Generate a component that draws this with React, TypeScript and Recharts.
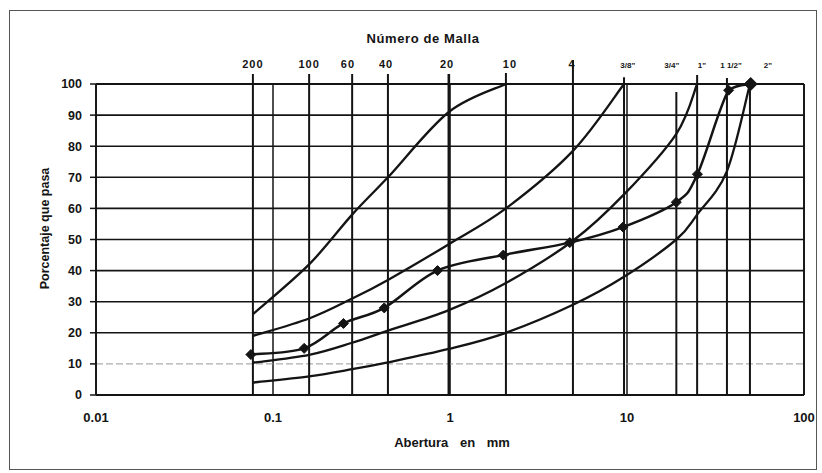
import { LineChart, Line, XAxis, YAxis, CartesianGrid, ReferenceLine, Label } from 'recharts'

// sieve designations and where each vertical sieve line sits (mm)
const sieveLabels = ['200', '100', '60', '40', '20', '10', '4', '3/8"', '3/4"', '1"', '1 1/2"', '2"']
const sieveLineMm = [0.077, 0.16, 0.28, 0.446, 0.985, 2.07, 4.95, 9.62, 19.0, 24.9, 36.7, 49.5]
// how high each sieve line reaches (in % passing units, above 100 = over the plot)
const sieveLineTop = [103.2, 103.2, 103.2, 103.2, 103.2, 103.5, 107.7, 102.2, 97.4, 102.9, 101.9, 100]
// where the sieve captions are anchored on the top scale (mm)
const sieveLabelMm = [0.077, 0.16, 0.265, 0.435, 0.962, 2.18, 4.89, 10.1, 17.9, 26.5, 38.7, 62.6]

const xTicks = [0.01, 0.1, 1, 10, 100]
const yTicks = [0, 10, 20, 30, 40, 50, 60, 70, 80, 90, 100]

// gradation envelopes, % passing at each sieve line
const upperFine = [26, 42, 58, 70, 91, 100]
const upperCoarse = [19, 24.6, 31, 37, 48.5, 60, 78.5, 100]
const lowerFine = [10.4, 12.9, 16.8, 20.7, 27.3, 36, 49.6, 64.5, 84, 100]
const lowerCoarse = [4, 6, 8.3, 10.5, 14.8, 20, 29, 38, 50, 58, 72, 100]

// tested sample
const sampleMm = [0.075, 0.15, 0.25, 0.425, 0.85, 2, 4.75, 9.5, 19, 25, 37.5, 50]
const samplePass = [13, 15, 23, 28, 40, 45, 49, 54, 62, 71, 98, 100]

const toPoints = (xs: number[], ys: number[]) => ys.map((y, i) => ({ x: xs[i], y }))

const envelopes = [upperFine, upperCoarse, lowerFine, lowerCoarse].map(ys => toPoints(sieveLineMm, ys))
const sample = toPoints(sampleMm, samplePass)

const INK = '#141414'
const FONT = '"Liberation Sans", Arial, sans-serif'

const clamp = (v: number, a: number, b: number) => Math.min(Math.max(v, Math.min(a, b)), Math.max(a, b))

// spreadsheet-style smoothed line: Catmull-Rom segments as cubic beziers,
// control points kept inside each segment's vertical span so nothing overshoots
function smoothCurve(context: any) {
  let pts: number[][] = []
  return {
    areaStart() {},
    areaEnd() {},
    lineStart() { pts = [] },
    point(x: number, y: number) { pts.push([+x, +y]) },
    lineEnd() {
      if (!pts.length) return
      context.moveTo(pts[0][0], pts[0][1])
      for (let i = 0; i < pts.length - 1; i++) {
        const p0 = pts[i - 1] ?? pts[i]
        const p1 = pts[i]
        const p2 = pts[i + 1]
        const p3 = pts[i + 2] ?? p2
        context.bezierCurveTo(
          p1[0] + (p2[0] - p0[0]) / 6, clamp(p1[1] + (p2[1] - p0[1]) / 6, p1[1], p2[1]),
          p2[0] - (p3[0] - p1[0]) / 6, clamp(p2[1] - (p3[1] - p1[1]) / 6, p1[1], p2[1]),
          p2[0], p2[1],
        )
      }
    },
  }
}

function Diamond(props: any) {
  const { cx, cy, index } = props
  if (cx == null || cy == null) return <g key={index} />
  const r = index === samplePass.length - 1 ? 6.5 : 5
  return (
    <path
      key={index}
      d={`M${cx},${cy - r} L${cx + r},${cy} L${cx},${cy + r} L${cx - r},${cy} Z`}
      fill={INK}
      stroke={INK}
    />
  )
}

function SieveTick(props: any) {
  const { x, y, payload } = props
  const i = sieveLabelMm.indexOf(payload.value)
  const label = sieveLabels[i] ?? ''
  const inch = label.includes('"')
  return (
    <text x={x} y={y} textAnchor="middle" fontFamily={FONT} fontWeight="bold"
      fontSize={inch ? 8 : 11} letterSpacing={inch ? 0 : 1} fill={INK}>
      {label}
    </text>
  )
}

export default function App() {
  return (
    <div style={{ position: 'absolute', left: 0, top: 0, width: 822, height: 473, background: '#fff' }}>
      <div style={{ position: 'absolute', left: 9, top: 10, width: 806, height: 458, border: '1px solid #555' }} />
      <div style={{ position: 'absolute', left: 0, top: 0 }}>
        <LineChart width={822} height={473} margin={{ top: 20, right: 18, left: 0, bottom: 0 }}>
          <CartesianGrid horizontal={false} stroke={INK} strokeWidth={1.5} />
          <XAxis
            dataKey="x" type="number" scale="log" domain={[0.01, 100]} ticks={xTicks}
            allowDataOverflow height={78} interval={0}
            axisLine={{ stroke: INK, strokeWidth: 1.8 }} tickLine={false} tickSize={6} tickMargin={12}
            tick={{ fontSize: 13, fontWeight: 'bold', fill: INK, fontFamily: FONT }}
          >
            <Label
              content={(p: any) => {
                const vb = p.viewBox ?? { x: 96, y: 395, width: 708, height: 78 }
                return (
                  <text x={vb.x + vb.width / 2 + 2} y={vb.y + 52} textAnchor="middle" fontFamily={FONT}
                    fontWeight="bold" fontSize={13} wordSpacing={8} fill={INK}>
                    Abertura en mm
                  </text>
                )
              }}
            />
          </XAxis>
          <XAxis
            xAxisId="top" orientation="top" dataKey="x" type="number" scale="log" domain={[0.01, 100]}
            ticks={sieveLabelMm} allowDataOverflow height={64} interval={0}
            axisLine={{ stroke: INK, strokeWidth: 1.8 }} tickLine={false} tickSize={6} tickMargin={10}
            tick={<SieveTick />}
          >
            <Label
              content={(p: any) => {
                const vb = p.viewBox ?? { x: 96, y: 20, width: 708, height: 64 }
                return (
                  <text x={vb.x + vb.width / 2 - 27} y={vb.y + 23} textAnchor="middle" fontFamily={FONT}
                    fontWeight="bold" fontSize={13} letterSpacing={0.6} fill={INK}>
                    Número de Malla
                  </text>
                )
              }}
            />
          </XAxis>
          <YAxis
            type="number" domain={[0, 100]} ticks={yTicks} width={96} interval={0}
            axisLine={{ stroke: INK, strokeWidth: 1.8 }} tickLine={{ stroke: INK, strokeWidth: 1.5 }}
            tickSize={6} tickMargin={8}
            tick={{ fontSize: 12.5, fontWeight: 'bold', fill: INK, fontFamily: FONT }}
          >
            <Label
              content={(p: any) => {
                const vb = p.viewBox ?? { x: 0, y: 84, width: 96, height: 311 }
                const cx = vb.x + 45
                const cy = vb.y + vb.height / 2 - 11
                return (
                  <text x={cx} y={cy} transform={`rotate(-90 ${cx} ${cy})`} textAnchor="middle"
                    dominantBaseline="central" fontFamily={FONT} fontWeight="bold" fontSize={12.5} fill={INK}>
                    Porcentaje que pasa
                  </text>
                )
              }}
            />
          </YAxis>

          {/* horizontal grid, the 10 % line is a faint dashed one */}
          {yTicks.map(v => (
            <ReferenceLine
              key={`h${v}`} y={v}
              stroke={v === 10 ? '#9a9a9a' : INK}
              strokeWidth={v === 10 ? 1 : 1.6}
              strokeDasharray={v === 10 ? '7 3' : undefined}
            />
          ))}
          <ReferenceLine x={100} stroke={INK} strokeWidth={1.8} />

          {/* sieve lines, running up past the top border */}
          {sieveLineMm.map((mm, i) => (
            <ReferenceLine
              key={`s${i}`}
              segment={[{ x: mm, y: 0 }, { x: mm, y: sieveLineTop[i] }]}
              ifOverflow="visible"
              stroke={INK}
              strokeWidth={i === 4 ? 2.6 : 2}
            />
          ))}

          {envelopes.map((pts, i) => (
            <Line
              key={`env${i}`} data={pts} dataKey="y" type={smoothCurve as any}
              stroke={INK} strokeWidth={2.3} dot={false} activeDot={false} isAnimationActive={false}
            />
          ))}
          <Line
            data={sample} dataKey="y" type={smoothCurve as any}
            stroke={INK} strokeWidth={2.5} dot={<Diamond />} activeDot={false} isAnimationActive={false}
          />
        </LineChart>
      </div>
    </div>
  )
}
